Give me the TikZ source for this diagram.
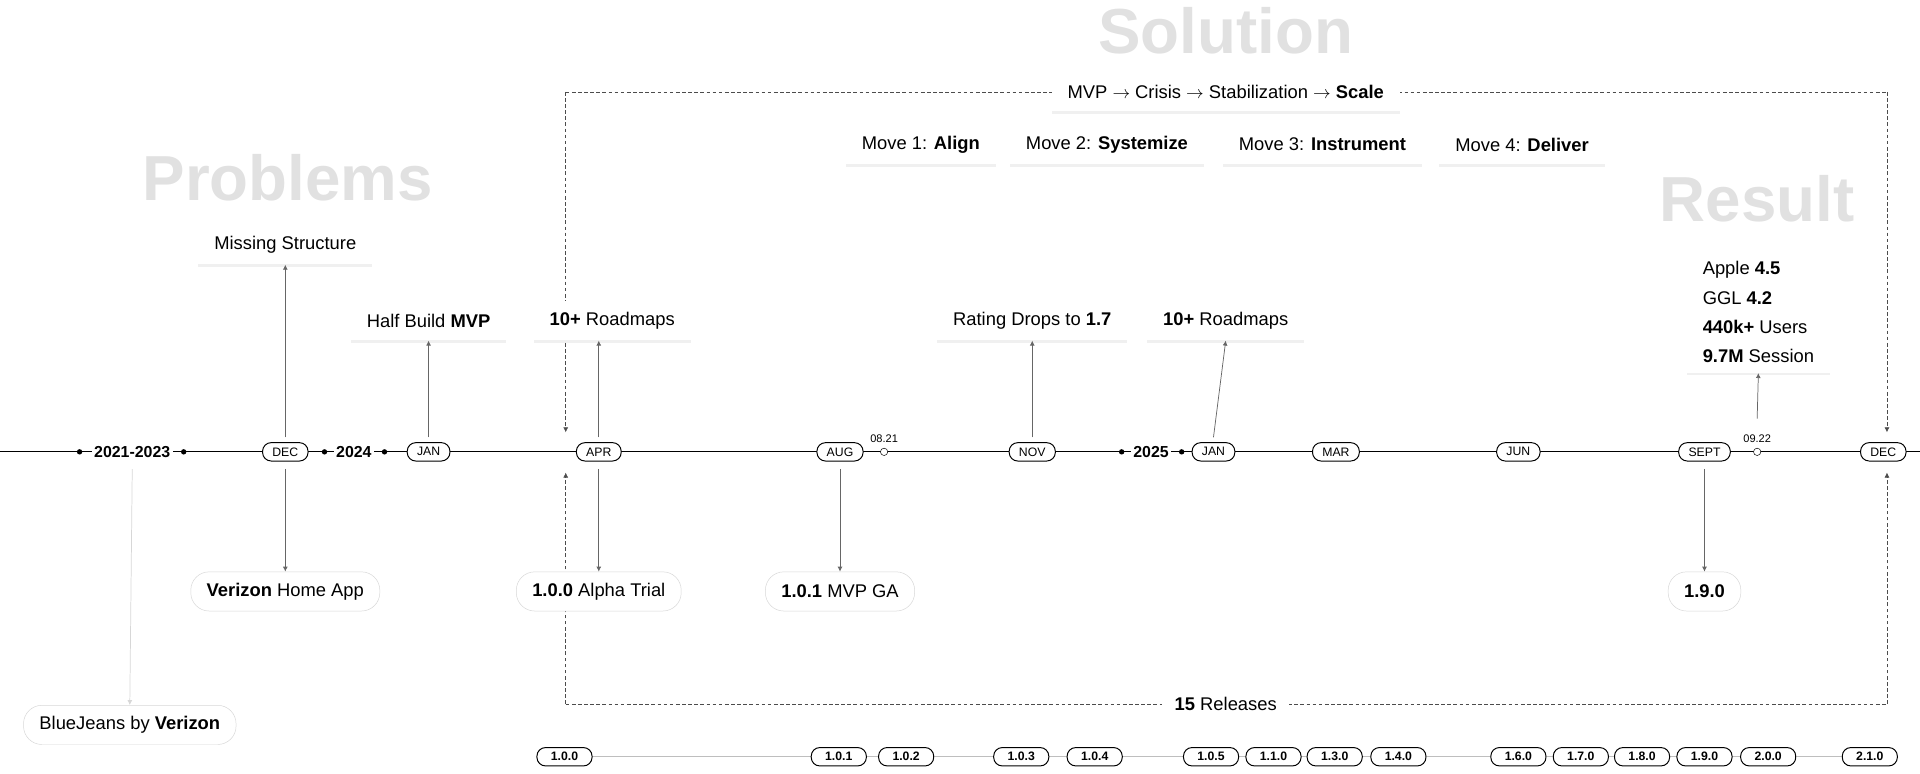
\documentclass[tikz,border=0pt]{standalone}
\usepackage{fontspec}
\setmainfont{Liberation Sans}
\usetikzlibrary{shadows,arrows.meta}
\definecolor{titlegrey}{RGB}{225, 225, 225}
\definecolor{edgegrey}{RGB}{215, 215, 215}
\definecolor{relgrey}{RGB}{190, 190, 190}
\tikzstyle{month} = [draw, thick, rounded corners=7pt, fill=white, font=\fontsize{10}{10}\selectfont,
  minimum height=15pt, inner xsep=8pt, inner ysep=2pt]
\tikzstyle{release} = [month, font=\bfseries\fontsize{10}{10}\selectfont, minimum width=45pt]
\tikzstyle{card} = [fill=white, drop shadow={opacity=0.12, shadow xshift=0pt, shadow yshift=-2pt},
  font=\fontsize{15}{18}\selectfont, inner xsep=13pt, minimum height=32pt]
\tikzstyle{bubble} = [draw=edgegrey, rounded corners=15pt, fill=white,
  font=\fontsize{15}{18}\selectfont, inner xsep=13pt, minimum height=32pt]
\tikzstyle{heading} = [text=titlegrey, font=\bfseries\fontsize{52}{52}\selectfont]
\tikzstyle{year} = [font=\bfseries\fontsize{13}{13}\selectfont]
\tikzstyle{link} = [semithick, draw=black!60, -{Latex[length=4pt,width=4pt]}]
\tikzstyle{frame} = [densely dashed, draw=black!70]

\begin{document}
\begin{tikzpicture}[x=1pt, y=-1pt]
  \useasboundingbox (0,0) rectangle (1568,632);

  % Headings
  \node[heading] (problems) at (235,145) {Problems};
  \node[heading] (solution) at (1001,25) {Solution};
  \node[heading] (result) at (1435,162) {Result};

  % Main line
  \draw[thick] (0,369) -- (1568,369);
  \foreach \x in {65,150,265,314,916,965}
    \fill (\x,369) circle (2.2pt);
  \node[year, fill=white, inner xsep=2pt] (y1) at (108,369) {2021-2023};
  \node[year, fill=white, inner xsep=2pt] (y2) at (289,369) {2024};
  \node[year, fill=white, inner xsep=2pt] (y3) at (940,369) {2025};

  % Months
  \foreach \x/\m/\name in {233/DEC/dec, 350/JAN/jan, 489/APR/apr, 686/AUG/aug, 843/NOV/nov,
      991/JAN/jantwo, 1091/MAR/mar, 1240/JUN/jun, 1392/SEPT/sept, 1538/DEC/dectwo}
    \node[month] (\name) at (\x,369) {\m};

  % Marks
  \node[draw, circle, fill=white, inner sep=0pt, minimum size=6pt] (m1) at (722,369) {};
  \node[draw, circle, fill=white, inner sep=0pt, minimum size=6pt] (m2) at (1435,369) {};
  \node[font=\fontsize{9}{9}\selectfont, above=1pt] at (m1.north) {08.21};
  \node[font=\fontsize{9}{9}\selectfont, above=1pt] at (m2.north) {09.22};

  % Dashed frame
  \draw[frame] (462,575) -- (1541,575);
  \draw[frame] (462,75) -- (1541,75);
  \draw[frame, -{Latex[length=4pt,width=4pt]}] (462,75) -- (462,353);
  \draw[frame, -{Latex[length=4pt,width=4pt]}] (462,575) -- (462,386);
  \draw[frame, -{Latex[length=4pt,width=4pt]}] (1541,75) -- (1541,353);
  \draw[frame, -{Latex[length=4pt,width=4pt]}] (1541,575) -- (1541,386);
  \node[card] (arc) at (1001,75) {MVP $\rightarrow$ Crisis $\rightarrow$ Stabilization $\rightarrow$ \textbf{Scale}};
  \node[fill=white, font=\fontsize{15}{18}\selectfont, inner xsep=10pt] (count) at (1001,575) {\textbf{15} Releases};

  % Moves
  \node[card] (move1) at (752,118) {Move 1: \textbf{Align}};
  \node[card] (move2) at (904,118) {Move 2: \textbf{Systemize}};
  \node[card] (move3) at (1080,118) {Move 3: \textbf{Instrument}};
  \node[card] (move4) at (1243,118) {Move 4: \textbf{Deliver}};

  % Events above
  \node[card] (missing) at (233,200) {Missing Structure};
  \node[card] (half) at (350,262) {Half Build \textbf{MVP}};
  \node[card] (road1) at (500,262) {\textbf{10+} Roadmaps};
  \node[card] (rating) at (843,262) {Rating Drops to \textbf{1.7}};
  \node[card] (road2) at (1001,262) {\textbf{10+} Roadmaps};
  \node[card, align=left, inner ysep=8pt, font=\fontsize{15}{24}\selectfont] (stats) at (1436,255)
    {Apple \textbf{4.5}\\GGL \textbf{4.2}\\\textbf{440k+} Users\\\textbf{9.7M} Session};

  \draw[link] (dec.north) ++(0,-4) -- (missing.south);
  \draw[link] (jan.north) ++(0,-4) -- (half.south);
  \draw[link] (apr.north) ++(0,-4) -- (apr.north |- road1.south);
  \draw[link] (nov.north) ++(0,-4) -- (rating.south);
  \draw[link] (jantwo.north) ++(0,-4) -- (road2.south);
  \draw[link] (m2.north) ++(0,-24) -- (stats.south);

  % Events below
  \node[bubble] (home) at (233,483) {\textbf{Verizon} Home App};
  \node[bubble] (alpha) at (489,483) {\textbf{1.0.0} Alpha Trial};
  \node[bubble] (ga) at (686,483) {\textbf{1.0.1} MVP GA};
  \node[bubble, font=\bfseries\fontsize{15}{18}\selectfont] (rel190) at (1392,483) {1.9.0};
  \node[bubble] (bluejeans) at (106,592) {BlueJeans by \textbf{Verizon}};

  \draw[link] (dec.south) ++(0,6) -- (home.north);
  \draw[link] (apr.south) ++(0,6) -- (alpha.north);
  \draw[link] (aug.south) ++(0,6) -- (ga.north);
  \draw[link] (sept.south) ++(0,6) -- (rel190.north);
  \draw[link, draw=edgegrey] (y1.south) ++(0,6) -- (bluejeans.north);

  % Releases
  \draw[relgrey, thick] (461,618) -- (1527,618);
  \foreach \x/\v in {461/1.0.0, 685/1.0.1, 740/1.0.2, 834/1.0.3, 894/1.0.4, 989/1.0.5, 1040/1.1.0,
      1090/1.3.0, 1142/1.4.0, 1240/1.6.0, 1291/1.7.0, 1341/1.8.0, 1392/1.9.0, 1444/2.0.0, 1527/2.1.0}
    \node[release] (r\x) at (\x,618) {\v};
\end{tikzpicture}
\end{document}
